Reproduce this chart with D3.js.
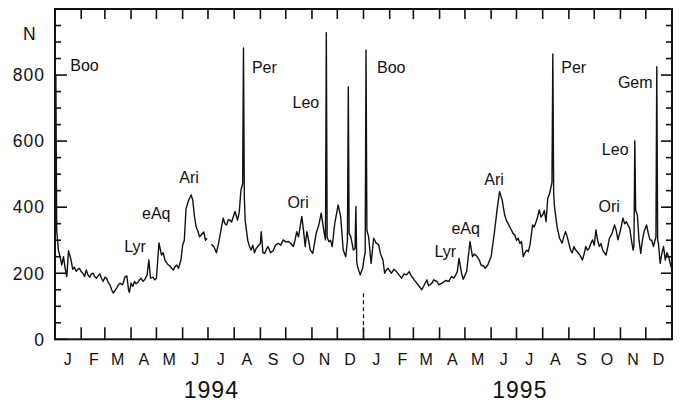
<!DOCTYPE html>
<html>
<head>
<meta charset="utf-8">
<script src="https://cdn.jsdelivr.net/npm/d3@7"></script>
<style>
  html, body { margin: 0; padding: 0; background: #fff; }
  svg { display: block; font-family: "Liberation Sans", Arial, Helvetica, sans-serif; }
</style>
</head>
<body>
<svg id="chart" width="682" height="404"></svg>
<script>
// Daily meteor radar counts N, sampled readings (MM-DD, count); null marks a data gap.
const counts1994 = [
  ["01-01",390],["01-02",800],["01-03",330],["01-05",270],["01-07",250],["01-09",225],
  ["01-11",250],["01-13",215],["01-15",190],["01-17",268],["01-20",240],["01-22",212],
  ["01-24",218],["01-26",206],["01-28",212],["01-30",215],["02-01",205],["02-03",200],
  ["02-05",190],["02-07",210],["02-09",195],["02-11",188],["02-13",198],["02-15",200],
  ["02-17",190],["02-19",185],["02-21",192],["02-23",198],["02-25",185],["02-27",175],
  ["03-01",188],["03-03",185],["03-05",172],["03-07",165],["03-09",150],["03-11",140],
  ["03-13",148],["03-15",155],["03-17",165],["03-19",170],["03-22",165],["03-25",190],
  ["03-27",192],["03-29",150],["03-30",142],["04-01",170],["04-03",160],["04-05",175],
  ["04-07",168],["04-09",172],["04-11",180],["04-13",185],["04-15",175],["04-17",180],
  ["04-20",195],["04-22",240],["04-24",185],["04-27",188],["04-29",180],["05-01",185],
  ["05-04",292],["05-07",255],["05-09",262],["05-11",240],["05-14",228],["05-17",222],
  ["05-19",215],["05-21",210],["05-23",220],["05-25",225],["05-27",215],["05-30",240],
  ["06-01",285],["06-03",300],["06-05",395],["06-08",420],["06-11",437],["06-13",422],
  ["06-15",372],["06-17",340],["06-19",328],["06-21",310],["06-23",316],["06-26",325],
  ["06-28",300],["06-30",306],["07-03",null],["07-05",288],["07-08",280],["07-11",262],
  ["07-13",285],["07-15",311],["07-17",340],["07-19",367],["07-21",350],["07-23",346],
  ["07-25",362],["07-27",361],["07-29",355],["07-31",372],["08-02",387],["08-05",361],
  ["08-07",385],["08-09",452],["08-11",470],["08-12",882],["08-13",430],["08-14",360],
  ["08-17",300],["08-19",282],
  ["08-21",270],["08-23",285],["08-25",262],["08-27",275],["08-29",281],["09-01",290],
  ["09-02",326],["09-04",262],["09-06",260],["09-08",272],["09-10",281],["09-13",262],
  ["09-16",268],["09-19",285],["09-22",291],["09-25",285],["09-28",301],["10-01",295],
  ["10-04",296],["10-07",290],["10-10",281],["10-12",300],["10-14",326],["10-16",310],
  ["10-18",340],["10-20",372],["10-22",330],["10-24",281],["10-26",326],["10-28",300],
  ["10-30",270],["11-02",260],["11-04",290],["11-06",321],["11-09",345],["11-12",382],
  ["11-15",330],["11-17",301],["11-18",928],["11-19",310],["11-21",295],["11-23",300],
  ["11-25",281],
  ["11-28",351],["12-02",407],["12-05",371],["12-08",270],["12-11",250],["12-13",300],
  ["12-14",764],["12-15",320],["12-17",311],["12-20",270],["12-22",275],["12-23",402],
  ["12-24",235],["12-25",220],["12-28",195],
  ["12-31",215]
];
const counts1995 = [
  ["01-02",250],["01-03",262],["01-04",876],["01-05",330],["01-07",311],["01-10",230],
  ["01-13",306],["01-16",291],
  ["01-19",286],["01-21",260],["01-24",240],["01-26",200],["01-28",210],["01-30",215],
  ["02-03",200],["02-06",212],["02-09",205],["02-12",195],["02-15",185],["02-18",198],
  ["02-21",195],["02-24",205],["02-27",190],["03-02",180],["03-05",170],["03-08",160],
  ["03-11",150],["03-14",165],["03-17",180],["03-19",162],["03-23",170],["03-25",180],
  ["03-29",175],["03-31",165],["04-04",170],["04-08",178],["04-12",175],["04-15",190],
  ["04-18",185],["04-22",205],["04-24",245],["04-27",200],["04-29",182],["05-03",205],
  ["05-07",296],["05-10",250],["05-12",258],["05-15",252],["05-18",240],["05-20",225],
  ["05-23",222],["05-25",215],["05-28",225],["06-01",250],["06-05",326],["06-08",392],
  ["06-11",447],["06-14",422],["06-17",377],["06-19",360],["06-21",351],["06-23",340],
  ["06-25",331],["06-27",320],["06-29",316],["07-01",300],["07-03",306],["07-05",290],
  ["07-07",296],["07-09",250],["07-11",262],["07-13",270],["07-15",265],["07-17",286],
  ["07-20",346],["07-22",340],["07-25",361],["07-28",392],["07-30",370],["08-01",377],
  ["08-03",390],["08-05",356],["08-07",427],["08-09",440],["08-11",462],["08-12",475],
  ["08-13",864],["08-14",440],
  ["08-15",400],["08-18",341],["08-21",306],["08-24",291],["08-26",310],["08-28",326],
  ["08-30",311],["09-01",290],["09-03",270],["09-05",262],["09-07",281],["09-09",270],
  ["09-11",265],["09-14",255],["09-17",240],["09-19",258],["09-21",281],["09-23",270],
  ["09-25",276],["09-27",290],["09-29",301],["10-01",285],["10-03",331],["10-05",300],
  ["10-07",281],["10-09",290],["10-11",270],["10-13",262],["10-15",255],["10-17",280],
  ["10-19",306],["10-22",320],["10-25",346],["10-27",330],["10-29",301],["11-01",330],
  ["11-04",367],["11-06",350],["11-08",356],["11-10",345],["11-12",336],["11-14",300],
  ["11-16",270],["11-17",285],["11-18",601],["11-19",390],["11-21",377],["11-23",300],
  ["11-25",260],["11-27",300],
  ["11-29",326],["12-02",346],["12-04",320],["12-06",301],["12-08",300],["12-10",281],
  ["12-12",300],["12-13",310],["12-14",825],["12-15",300],["12-16",290],["12-18",230],
  ["12-20",260],["12-22",281],
  ["12-24",240],["12-26",262],["12-28",250],["12-31",218]
];

// Axis labels
const monthLetters = ["J","F","M","A","M","J","J","A","S","O","N","D"];
const years = [1994, 1995];
const yMajorTicks = [0, 200, 400, 600, 800];

// Meteor shower names, anchored in data space (date, count) at the text's left baseline
const showerLabels = [
  { name: "Boo", date: "1994-01-19", n: 812 },
  { name: "Lyr", date: "1994-03-24", n: 264 },
  { name: "eAq", date: "1994-04-14", n: 364 },
  { name: "Ari", date: "1994-05-28", n: 473 },
  { name: "Per", date: "1994-08-22", n: 806 },
  { name: "Ori", date: "1994-10-03", n: 397 },
  { name: "Leo", date: "1994-10-09", n: 700 },
  { name: "Boo", date: "1995-01-17", n: 806 },
  { name: "Lyr", date: "1995-03-26", n: 249 },
  { name: "eAq", date: "1995-04-15", n: 319 },
  { name: "Ari", date: "1995-05-24", n: 467 },
  { name: "Per", date: "1995-08-23", n: 806 },
  { name: "Ori", date: "1995-10-06", n: 385 },
  { name: "Leo", date: "1995-10-10", n: 558 },
  { name: "Gem", date: "1995-10-29", n: 761 }
];

const parse = d3.utcParse("%Y-%m-%d");
const series = [
  ...counts1994.map(([md, n]) => ({ date: parse("1994-" + md), n })),
  ...counts1995.map(([md, n]) => ({ date: parse("1995-" + md), n }))
];

const svg = d3.select("#chart");
const plotLeft = 55, plotRight = 672, plotTop = 9, plotBottom = 339.3;

const x = d3.scaleUtc()
  .domain([parse("1994-01-01"), parse("1996-01-01")])
  .range([plotLeft, plotRight]);
const y = d3.scaleLinear().domain([0, 1000]).range([plotBottom, plotTop]);

const months = d3.utcMonth.range(parse("1994-01-01"), parse("1996-01-02"));

// Data curve
const line = d3.line()
  .defined(d => d.n !== null)
  .x(d => x(d.date))
  .y(d => y(d.n));

svg.append("path")
  .datum(series)
  .attr("fill", "none")
  .attr("stroke", "#111")
  .attr("stroke-width", 1.4)
  .attr("stroke-linejoin", "round")
  .attr("d", line);

// Frame
svg.append("rect")
  .attr("x", plotLeft).attr("y", plotTop)
  .attr("width", plotRight - plotLeft).attr("height", plotBottom - plotTop)
  .attr("fill", "none").attr("stroke", "#111").attr("stroke-width", 2);

// Month ticks on bottom and top, pointing inward
const g = svg.append("g").attr("stroke", "#111").attr("stroke-width", 1.6);
months.forEach(m => {
  const xm = x(m);
  g.append("line").attr("x1", xm).attr("x2", xm).attr("y1", plotBottom).attr("y2", plotBottom - 12);
  g.append("line").attr("x1", xm).attr("x2", xm).attr("y1", plotTop).attr("y2", plotTop + 10);
});

// Y ticks every 50 on both sides, longer at labelled values
d3.range(0, 1001, 50).forEach(v => {
  const yy = y(v);
  const major = v % 200 === 0;
  g.append("line").attr("x1", plotLeft).attr("x2", plotLeft + (major ? 12 : 6)).attr("y1", yy).attr("y2", yy);
  g.append("line").attr("x1", plotRight).attr("x2", plotRight - (major ? 11 : 6)).attr("y1", yy).attr("y2", yy);
});

// Y tick labels
svg.append("g").selectAll("text")
  .data(yMajorTicks)
  .join("text")
  .attr("x", plotLeft - 10)
  .attr("y", d => y(d))
  .attr("dy", "0.36em")
  .attr("text-anchor", "end")
  .attr("font-size", 17.5)
  .attr("letter-spacing", 1)
  .attr("fill", "#111")
  .text(d => d);

svg.append("text")
  .attr("x", 23).attr("y", 40)
  .attr("font-size", 17.5)
  .attr("fill", "#111")
  .text("N");

// Month letters centred in each month
svg.append("g").selectAll("text")
  .data(months.slice(0, 24))
  .join("text")
  .attr("x", d => x(d3.utcDay.offset(d, 15)))
  .attr("y", 365)
  .attr("text-anchor", "middle")
  .attr("font-size", 16)
  .attr("fill", "#111")
  .text((d, i) => monthLetters[i % 12]);

// Year labels
svg.append("g").selectAll("text")
  .data(years)
  .join("text")
  .attr("x", d => x(parse(d + "-07-05")))
  .attr("y", 398)
  .attr("text-anchor", "middle")
  .attr("font-size", 23)
  .attr("letter-spacing", 1)
  .attr("fill", "#111")
  .text(d => d);

// Dashed marker at the year boundary
svg.append("line")
  .attr("x1", x(parse("1995-01-01"))).attr("x2", x(parse("1995-01-01")))
  .attr("y1", y(0)).attr("y2", y(140))
  .attr("stroke", "#111").attr("stroke-width", 1.2)
  .attr("stroke-dasharray", "4,3");

// Shower names
svg.append("g").selectAll("text")
  .data(showerLabels)
  .join("text")
  .attr("x", d => x(parse(d.date)))
  .attr("y", d => y(d.n))
  .attr("font-size", 16)
  .attr("fill", "#111")
  .text(d => d.name);
</script>
</body>
</html>
